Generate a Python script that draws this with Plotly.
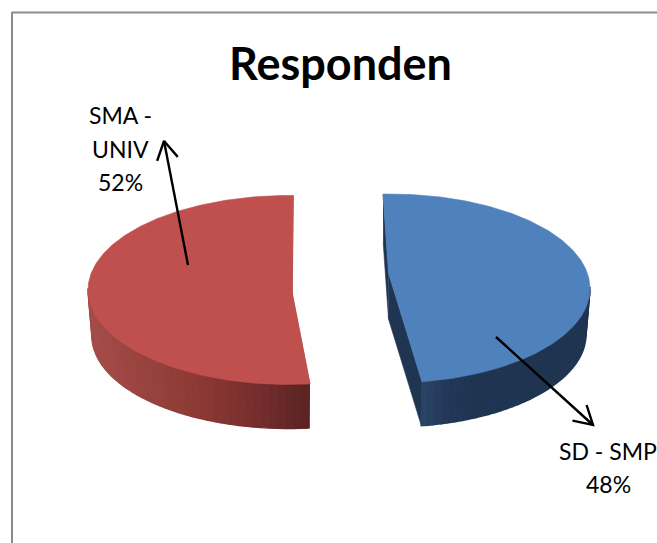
import numpy as np
import plotly.graph_objects as go

categories = ["SD - SMP", "SMA - UNIV"]
values = [48, 52]
title_text = "Responden"
label_lines = [["SD - SMP", "48%"], ["SMA -", "UNIV", "52%"]]

W, H = 657, 543
start_degs = [92.0, -84.0]
semi_a = [200.0, 201.0]
semi_b = [94.5, 94.5]
DEPTH = 46.0
A_SHRINK, B_SHRINK = 4.0, 2.0

centers = [(390.0, 288.5), (289.0, 290.0)]
apexes = [(388.5, 273.0), (292.0, 292.0)]
face_cols = ["#4F81BD", "#C0504D"]
wall_ramps = [
    [(421, "#2C4669"), (450, "#24395A"), (480, "#1F3450"), (590, "#1F3450")],
    [(88, "#A64D4A"), (200, "#8D3A34"), (260, "#772E2E"), (309, "#5C2524")],
]
inner_cols = ["#1F3552", "#9E4441"]
label_y = [[451, 484], [115, 149, 182]]
label_x = [608, 120]
arrows = [((496, 337), (593, 425)), ((188, 265), (164, 141))]


def hex2rgb(h):
    return np.array([int(h[i:i + 2], 16) for i in (1, 3, 5)], float)


def ramp(stops, x):
    xs = [s[0] for s in stops]
    cs = np.array([hex2rgb(s[1]) for s in stops])
    return "rgb(%d,%d,%d)" % tuple(np.interp(x, xs, cs[:, i]) for i in range(3))


def poly(fig, xs, ys, col, lw=0.6):
    fig.add_trace(go.Scatter(x=list(xs), y=list(ys), mode="lines", fill="toself", fillcolor=col,
                             line=dict(color=col, width=lw), hoverinfo="skip", showlegend=False))


fig = go.Figure()
fracs = np.array(values) / sum(values) * 360.0
for i, frac in enumerate(fracs):
    t0 = start_degs[i]
    t1 = t0 - frac
    ts = np.radians(np.linspace(t0, t1, 240))
    cx, cy = centers[i]
    ax, ay = apexes[i]
    a, b = semi_a[i], semi_b[i]
    top_x, top_y = cx + a * np.cos(ts), cy - b * np.sin(ts)
    bot_x, bot_y = cx + (a - A_SHRINK) * np.cos(ts), cy + DEPTH - (b - B_SHRINK) * np.sin(ts)

    # radial walls
    poly(fig, [top_x[0], ax, ax, bot_x[0]], [top_y[0], ay, ay + DEPTH, bot_y[0]], inner_cols[i])
    poly(fig, [ax, top_x[-1], bot_x[-1], ax], [ay, top_y[-1], bot_y[-1], ay + DEPTH], inner_cols[i])

    # outer wall, shaded strip by strip
    lower = np.where(np.sin(ts) <= 0.02)[0]
    for j0 in range(lower[0], lower[-1], 3):
        j1 = min(j0 + 3, lower[-1])
        seg = np.arange(j0, j1 + 1)
        poly(fig,
             np.r_[top_x[seg], bot_x[seg][::-1]],
             np.r_[top_y[seg], bot_y[seg][::-1]],
             ramp(wall_ramps[i], top_x[j0]), lw=1.4)

    # top face
    poly(fig, np.r_[ax, top_x, ax], np.r_[ay, top_y, ay], face_cols[i])

# arrows with open heads
for (x0, y0), (x1, y1) in arrows:
    ang = np.arctan2(y1 - y0, x1 - x0)
    hl, spread = 21.0, np.radians(30)
    hx = [x1 - hl * np.cos(ang - spread), x1, x1 - hl * np.cos(ang + spread)]
    hy = [y1 - hl * np.sin(ang - spread), y1, y1 - hl * np.sin(ang + spread)]
    fig.add_trace(go.Scatter(x=[x0, x1], y=[y0, y1], mode="lines", line=dict(color="#000000", width=2.4),
                             hoverinfo="skip", showlegend=False))
    fig.add_trace(go.Scatter(x=hx, y=hy, mode="lines", line=dict(color="#000000", width=2.4),
                             hoverinfo="skip", showlegend=False))

annotations = [dict(x=340, y=63, text="<b>%s</b>" % title_text, showarrow=False, xref="x", yref="y",
                    font=dict(family="Lato", size=45, color="#000000"))]
for lines, ys, x in zip(label_lines, label_y, label_x):
    for line, y in zip(lines, ys):
        annotations.append(dict(x=x, y=y, text=line, showarrow=False, xref="x", yref="y",
                                font=dict(family="Lato", size=23, color="#000000")))

fig.update_layout(
    width=W, height=H, autosize=False,
    margin=dict(l=0, r=0, t=0, b=0),
    paper_bgcolor="#FFFFFF", plot_bgcolor="#FFFFFF", showlegend=False,
    xaxis=dict(range=[0, W], visible=False, fixedrange=True),
    yaxis=dict(range=[H, 0], visible=False, fixedrange=True),
    annotations=annotations,
    shapes=[
        dict(type="line", x0=12, x1=12, y0=12, y1=H, line=dict(color="#8C8C8C", width=2)),
        dict(type="line", x0=12, x1=W, y0=12.5, y1=12.5, line=dict(color="#8C8C8C", width=2)),
    ],
)
fig.write_html("out.html", config=dict(displayModeBar=False),
               post_script="document.body.style.margin='0';document.body.style.overflow='hidden';")
